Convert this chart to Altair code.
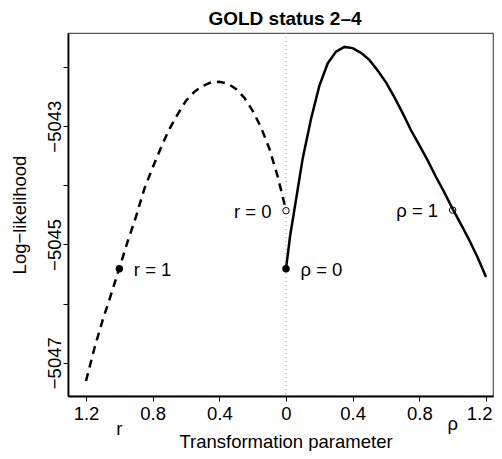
import altair as alt
import pandas as pd

# r branch (dashed), plotted on the left with reversed axis
r_vals = [1.2, 1.15, 1.1, 1.05, 1.0, 0.95, 0.9, 0.85, 0.8, 0.75, 0.7, 0.65, 0.6,
          0.55, 0.5, 0.45, 0.4, 0.35, 0.3, 0.25, 0.2, 0.15, 0.1, 0.05, 0.0]
r_ll = [-5047.31, -5046.76, -5046.28, -5045.85, -5045.40, -5044.95, -5044.53,
        -5044.06, -5043.70, -5043.36, -5043.05, -5042.80, -5042.57, -5042.42,
        -5042.32, -5042.26, -5042.25, -5042.28, -5042.37, -5042.52, -5042.74,
        -5043.02, -5043.38, -5043.85, -5044.42]

# rho branch (solid), plotted on the right
rho_vals = [0.0, 0.025, 0.05, 0.1, 0.15, 0.2, 0.25, 0.3, 0.35, 0.4, 0.45, 0.5, 0.55,
            0.6, 0.65, 0.7, 0.75, 0.8, 0.85, 0.9, 0.95, 1.0, 1.05, 1.1, 1.15, 1.2]
rho_ll = [-5045.41, -5044.85, -5044.42, -5043.55, -5042.88, -5042.32, -5041.94,
          -5041.74, -5041.66, -5041.68, -5041.76, -5041.88, -5042.06, -5042.26,
          -5042.51, -5042.78, -5043.07, -5043.32, -5043.58, -5043.86, -5044.12,
          -5044.40, -5044.66, -5044.93, -5045.22, -5045.55]

# marked points
filled_x = [-1.0, 0.0]
filled_y = [-5045.41, -5045.41]
filled_lab = ["r = 1", "ρ = 0"]
open_x = [0.0, 1.0]
open_y = [-5044.43, -5044.42]
open_lab = ["r = 0", "ρ = 1"]

x_ticks = [-1.2, -0.8, -0.4, 0.0, 0.4, 0.8, 1.2]
y_ticks = [-5047, -5046, -5045, -5044, -5043, -5042]

W, H = 425, 363
FONT = "Liberation Sans"
FS = 18.5

r_df = pd.DataFrame({"r": r_vals, "ll": r_ll})
rho_df = pd.DataFrame({"x": rho_vals, "ll": rho_ll})
filled_df = pd.DataFrame({"x": filled_x, "ll": filled_y, "lab": filled_lab})
open_df = pd.DataFrame({"x": open_x, "ll": open_y, "lab": open_lab})

xscale = alt.Scale(domain=[-1.308, 1.242], nice=False, zero=False)
yscale = alt.Scale(domain=[-5047.563, -5041.425], nice=False, zero=False)

xaxis = alt.Axis(
    values=x_ticks,
    labelExpr="datum.value == 0 ? '0' : format(abs(datum.value), '.1f')",
    title="Transformation parameter",
    titleFont=FONT, titleFontSize=FS, titleFontWeight="normal", titleColor="black",
    titleBaseline="alphabetic", titleX=217.5, titleY=51.5, titleAlign="center",
    labelFont=FONT, labelFontSize=FS, labelColor="black",
    labelBaseline="alphabetic", labelPadding=18, labelOverlap=False,
    labelFlush=10, labelFlushOffset=6,
    tickSize=5, tickColor="black", tickWidth=1,
    domainColor="black", domainWidth=1.8, grid=False,
)
yaxis = alt.Axis(
    values=y_ticks,
    labelExpr="datum.value % 2 != 0 ? '\u2212' + format(abs(datum.value), 'd') : ''",
    title="Log\u2212likelihood",
    titleFont=FONT, titleFontSize=FS, titleFontWeight="normal", titleColor="black",
    titleAngle=270, titleBaseline="alphabetic", titleX=-42.5, titleY=H / 2,
    titleAlign="center",
    labelFont=FONT, labelFontSize=FS, labelColor="black",
    labelAngle=270, labelAlign="center", labelBaseline="alphabetic",
    labelPadding=2.5, labelOverlap=False, labelFlush=False,
    tickSize=5, tickColor="black", tickWidth=1,
    domainColor="black", domainWidth=1.8, grid=False,
)

zero_line = alt.Chart(pd.DataFrame({"x": [0.0]})).mark_rule(
    color="#999999", strokeDash=[1, 3], strokeWidth=1
).encode(x=alt.X("x:Q", scale=xscale, axis=xaxis))

dashed = alt.Chart(r_df).transform_calculate(x="-datum.r").mark_line(
    color="black", strokeWidth=2.5, strokeDash=[8, 6]
).encode(
    x=alt.X("x:Q", scale=xscale, axis=xaxis),
    y=alt.Y("ll:Q", scale=yscale, axis=yaxis),
)

solid = alt.Chart(rho_df).mark_line(color="black", strokeWidth=2.5).encode(
    x=alt.X("x:Q", scale=xscale), y=alt.Y("ll:Q", scale=yscale)
)

filled_pts = alt.Chart(filled_df).mark_point(
    filled=True, size=55, color="black", opacity=1
).encode(x=alt.X("x:Q", scale=xscale), y=alt.Y("ll:Q", scale=yscale))

open_pts = alt.Chart(open_df).mark_point(
    filled=False, size=42, stroke="black", strokeWidth=1, opacity=1
).encode(x=alt.X("x:Q", scale=xscale), y=alt.Y("ll:Q", scale=yscale))

filled_txt = alt.Chart(filled_df).mark_text(
    align="left", baseline="middle", dx=14.5, dy=1, font=FONT, fontSize=FS, color="black"
).encode(x=alt.X("x:Q", scale=xscale), y=alt.Y("ll:Q", scale=yscale), text="lab:N")

open_txt = alt.Chart(open_df).mark_text(
    align="right", baseline="middle", dx=-14.5, dy=1, font=FONT, fontSize=FS, color="black"
).encode(x=alt.X("x:Q", scale=xscale), y=alt.Y("ll:Q", scale=yscale), text="lab:N")

sub_df = pd.DataFrame({"x": [-1.0], "lab": ["r"]})
sub_r = alt.Chart(sub_df).mark_text(
    align="center", baseline="alphabetic", font=FONT, fontSize=FS, color="black"
).encode(x=alt.X("x:Q", scale=xscale), y=alt.value(401.5), text="lab:N")

sub_df2 = pd.DataFrame({"x": [1.0], "lab": ["ρ"]})
sub_rho = alt.Chart(sub_df2).mark_text(
    align="center", baseline="alphabetic", font=FONT, fontSize=FS, color="black"
).encode(x=alt.X("x:Q", scale=xscale), y=alt.value(396.5), text="lab:N")

title_df = pd.DataFrame({"t": ["GOLD status 2\u20134"]})
title = alt.Chart(title_df).mark_text(
    align="center", baseline="alphabetic", font=FONT, fontSize=19,
    fontWeight="bold", color="black"
).encode(x=alt.value(217), y=alt.value(-8), text="t:N")

chart = alt.layer(
    zero_line, dashed, solid, filled_pts, open_pts, filled_txt, open_txt,
    sub_r, sub_rho, title
).properties(
    width=W, height=H,
    autosize=alt.AutoSizeParams(type="none"),
    padding={"left": 60, "top": 25, "right": 1, "bottom": 55},
    background="white",
).configure_view(
    stroke="#555555", strokeWidth=1.2
)

chart.save("out.html", embed_options={"renderer": "svg", "actions": False})
